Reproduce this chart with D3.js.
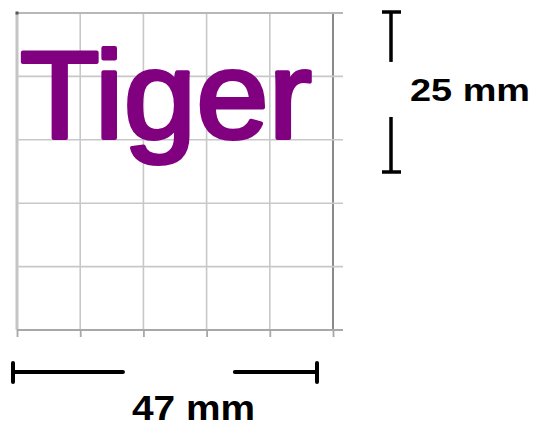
<!DOCTYPE html>
<html>
<head>
<meta charset="utf-8">
<script src="https://cdn.jsdelivr.net/npm/d3@7"></script>
<style>
  body { margin: 0; background: #fff; }
  svg { display: block; }
</style>
</head>
<body>
<div id="chart"></div>
<script>
// grid cells (5 x 5) and the labels on the picture
const cols = [0, 1, 2, 3, 4, 5];
const rows = [0, 1, 2, 3, 4, 5];
const word = ["Tiger"];
const widthLabel = ["47 mm"];
const heightLabel = ["25 mm"];
const widthMm = [0, 47];   // horizontal dimension, mm
const heightMm = [0, 25];  // vertical dimension, mm

const width = 538,
      height = 427;

let svg = d3.select("#chart")
    .append("svg")
    .attr("width", width)
    .attr("height", height)
    .attr("viewBox", [0, 0, width, height]);

// grid scales
let x = d3.scaleLinear().domain([0, 5]).range([17, 333]);
let y = d3.scaleLinear().domain([0, 5]).range([330, 13]);

// mm scales for the dimension markers
let mmX = d3.scaleLinear().domain([0, 47]).range([13, 317]);
let mmY = d3.scaleLinear().domain([0, 25]).range([172, 12]);

// vertical grid lines
svg.append("g")
    .selectAll("line")
    .data(cols)
    .join("line")
    .attr("x1", d => x(d))
    .attr("x2", d => x(d))
    .attr("y1", y(5))
    .attr("y2", y(0))
    .attr("stroke", d => d == 5 ? "#8a8a8a" : d == 0 ? "#c4c4c4" : "#c8c8c8")
    .attr("stroke-width", d => d == 0 ? 3 : d == 5 ? 2 : 1.6);

// horizontal grid lines
svg.append("g")
    .selectAll("line")
    .data(rows.filter(d => d > 0))
    .join("line")
    .attr("x1", x(0))
    .attr("x2", x(5) + 10)
    .attr("y1", d => y(d))
    .attr("y2", d => y(d))
    .attr("stroke", d => d == 5 ? "#b8b8b8" : "#c8c8c8")
    .attr("stroke-width", d => d == 5 ? 2.2 : 1.6);

// bottom axis with little ticks
const xAxis = g => g
    .attr("transform", `translate(0, ${y(0)})`)
    .call(d3.axisBottom(x).tickValues(cols).tickSize(7).tickSizeOuter(0).tickFormat(""))
    .call(g => g.select(".domain").attr("stroke", "#a8a8a8").attr("stroke-width", 2)
        .attr("d", `M${x(0)},0H${x(5) + 10}`))
    .call(g => g.selectAll(".tick line").attr("stroke", "#a8a8a8").attr("stroke-width", 1.8));

svg.append("g").call(xAxis);

// dark dot top-left
svg.append("rect")
    .attr("x", x(0) - 1.5).attr("y", y(5) - 1.5)
    .attr("width", 3).attr("height", 3)
    .attr("fill", "#555");

// the word (regular face thickened with a stroke)
svg.append("text")
    .attr("x", 20)
    .attr("y", 138)
    .attr("fill", "#800080")
    .attr("stroke", "#800080")
    .attr("stroke-width", 4)
    .attr("stroke-linejoin", "round")
    .attr("font-family", "Liberation Sans, Arial, sans-serif")
    .attr("font-size", 125)
    .attr("textLength", 292)
    .attr("lengthAdjust", "spacingAndGlyphs")
    .text(word[0]);

// horizontal dimension
let hy = 372;
let hdim = svg.append("g").attr("stroke", "#000").attr("stroke-linecap", "round");
hdim.append("line")
    .attr("x1", mmX(widthMm[0])).attr("x2", mmX(17))
    .attr("y1", hy).attr("y2", hy).attr("stroke-width", 4);
hdim.append("line")
    .attr("x1", mmX(34.3)).attr("x2", mmX(widthMm[1]))
    .attr("y1", hy).attr("y2", hy).attr("stroke-width", 4);
hdim.selectAll(".cap")
    .data(widthMm)
    .join("line")
    .attr("class", "cap")
    .attr("x1", d => mmX(d)).attr("x2", d => mmX(d))
    .attr("y1", hy - 9).attr("y2", hy + 10)
    .attr("stroke-width", 4);

svg.append("text")
    .attr("x", mmX(widthMm[0]) + 119)
    .attr("y", 420)
    .attr("font-family", "Liberation Sans, Arial, sans-serif")
    .attr("font-weight", "bold")
    .attr("font-size", 35)
    .attr("textLength", 123)
    .attr("lengthAdjust", "spacingAndGlyphs")
    .text(widthLabel[0]);

// vertical dimension
let vx = 391;
let vdim = svg.append("g").attr("stroke", "#000");
vdim.append("line")
    .attr("x1", vx).attr("x2", vx)
    .attr("y1", mmY(heightMm[1])).attr("y2", mmY(17.2))
    .attr("stroke-width", 3.5);
vdim.append("line")
    .attr("x1", vx).attr("x2", vx)
    .attr("y1", mmY(8.6)).attr("y2", mmY(heightMm[0]))
    .attr("stroke-width", 3.5);
vdim.selectAll(".cap")
    .data(heightMm)
    .join("line")
    .attr("class", "cap")
    .attr("x1", vx - 9).attr("x2", vx + 10)
    .attr("y1", d => mmY(d)).attr("y2", d => mmY(d))
    .attr("stroke-width", 3.5);

svg.append("text")
    .attr("x", 410)
    .attr("y", 101)
    .attr("font-family", "Liberation Sans, Arial, sans-serif")
    .attr("font-weight", "bold")
    .attr("font-size", 32)
    .attr("textLength", 120)
    .attr("lengthAdjust", "spacingAndGlyphs")
    .text(heightLabel[0]);
</script>
</body>
</html>
